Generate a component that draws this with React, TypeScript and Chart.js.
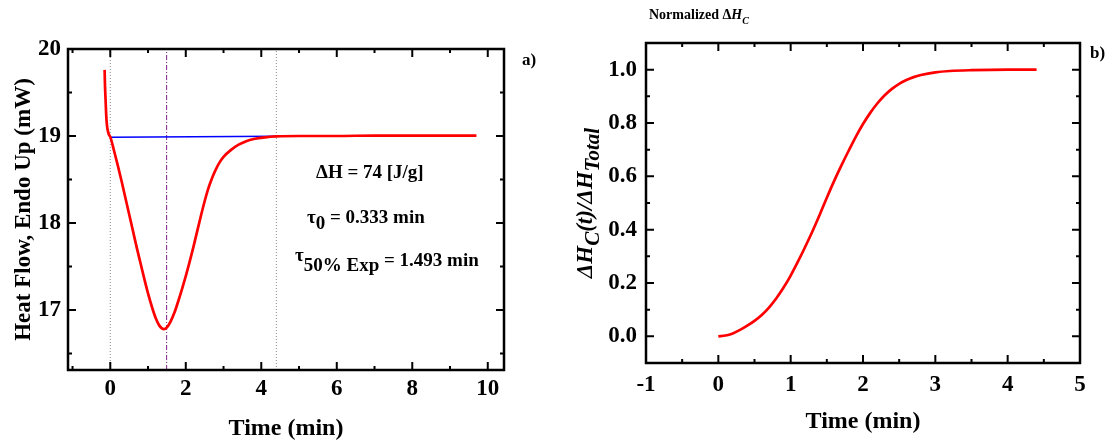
import React, { useEffect, useRef } from "react";
import { Chart, registerables } from "chart.js";

Chart.register(...registerables);

const SERIF = "'Liberation Serif', 'Times New Roman', Times, serif";

// ---------- Panel a) : heat flow ----------
const heatTime = [
  -0.15, -0.14, -0.125, -0.11, -0.09, -0.06, -0.03, 0, 0.1, 0.2, 0.3, 0.4, 0.5, 0.6, 0.7, 0.8, 0.9,
  1.0, 1.1, 1.2, 1.3, 1.42, 1.5, 1.6, 1.7, 1.8, 1.9, 2.0, 2.1, 2.2, 2.3, 2.4, 2.5, 2.6, 2.7, 2.8, 2.9,
  3.0, 3.2, 3.4, 3.6, 3.8, 4.1, 4.4, 5, 6, 7, 8, 9, 9.7,
];
const heatFlow = [
  19.76, 19.58, 19.42, 19.26, 19.13, 19.05, 19.01, 18.99, 18.83, 18.66, 18.48, 18.29, 18.1, 17.91, 17.72, 17.54, 17.36,
  17.19, 17.04, 16.91, 16.82, 16.78, 16.8, 16.87, 16.97, 17.1, 17.24, 17.39, 17.55, 17.72, 17.9, 18.08, 18.25, 18.4, 18.52, 18.62, 18.7,
  18.76, 18.84, 18.9, 18.94, 18.965, 18.985, 18.995, 19.0, 19.0, 19.005, 19.005, 19.005, 19.005,
];
const baseTime = [0, 4.4];
const baseFlow = [18.985, 18.998];
const markerTimes = [0, 1.493, 4.4];
const aXRange = [-1.12, 10.43];
const aYRange = [16.31, 20.0];
const aXMajor = [0, 2, 4, 6, 8, 10];
const aXMinor = [-1, 1, 3, 5, 7, 9];
const aYMajor = [17, 18, 19, 20];
const aYMinor = [16.5, 17.5, 18.5, 19.5];

// ---------- Panel b) : normalized enthalpy ----------
const normTime = [
  0, 0.1, 0.2, 0.3, 0.4, 0.5, 0.6, 0.7, 0.8, 0.9, 1.0, 1.1, 1.2, 1.3, 1.4, 1.5, 1.6, 1.7, 1.8, 1.9,
  2.0, 2.1, 2.2, 2.3, 2.4, 2.5, 2.6, 2.7, 2.8, 3.0, 3.2, 3.5, 4.0, 4.4,
];
const normValue = [
  0, 0.003, 0.011, 0.024, 0.04, 0.058, 0.08, 0.108, 0.142, 0.182, 0.228, 0.28, 0.335, 0.393, 0.455, 0.52, 0.582, 0.64, 0.695, 0.748,
  0.796, 0.838, 0.874, 0.904, 0.928, 0.947, 0.961, 0.972, 0.98, 0.99, 0.995, 0.998, 1.0, 1.0,
];
const bXRange = [-1, 5];
const bYRange = [-0.1, 1.1];
const bXMajor = [-1, 0, 1, 2, 3, 4, 5];
const bXMinor = [-0.5, 0.5, 1.5, 2.5, 3.5, 4.5];
const bYMajor = [0, 0.2, 0.4, 0.6, 0.8, 1.0];
const bYMinor = [0.1, 0.3, 0.5, 0.7, 0.9];

type Seg = { t: string; font: string; dy?: number };

function drawSegs(ctx: CanvasRenderingContext2D, x: number, y: number, segs: Seg[], align: "left" | "center") {
  let total = 0;
  const widths = segs.map((s) => {
    ctx.font = s.font;
    const w = ctx.measureText(s.t).width;
    total += w;
    return w;
  });
  let cx = align === "center" ? x - total / 2 : x;
  ctx.textAlign = "left";
  segs.forEach((s, i) => {
    ctx.font = s.font;
    ctx.fillText(s.t, cx, y + (s.dy || 0));
    cx += widths[i];
  });
}

const bold = (px: number) => `bold ${px}px ${SERIF}`;
const boldIt = (px: number) => `italic bold ${px}px ${SERIF}`;

function framePlugin(xMajor: number[], xMinor: number[], yMajor: number[], yMinor: number[], drawText: (ctx: CanvasRenderingContext2D, chart: any) => void) {
  return {
    id: "frameTicks",
    afterDraw(chart: any) {
      const { ctx, chartArea: a, scales } = chart;
      const xs = scales.x;
      const ys = scales.y;
      ctx.save();
      ctx.strokeStyle = "#000";
      ctx.lineWidth = 2;
      ctx.setLineDash([]);
      const xt = (vals: number[], len: number) => {
        vals.forEach((v) => {
          const p = xs.getPixelForValue(v);
          ctx.beginPath();
          ctx.moveTo(p, a.bottom);
          ctx.lineTo(p, a.bottom - len);
          ctx.moveTo(p, a.top);
          ctx.lineTo(p, a.top + len);
          ctx.stroke();
        });
      };
      const yt = (vals: number[], len: number) => {
        vals.forEach((v) => {
          const p = ys.getPixelForValue(v);
          ctx.beginPath();
          ctx.moveTo(a.left, p);
          ctx.lineTo(a.left + len, p);
          ctx.moveTo(a.right, p);
          ctx.lineTo(a.right - len, p);
          ctx.stroke();
        });
      };
      xt(xMajor, 8);
      xt(xMinor, 4);
      yt(yMajor, 8);
      yt(yMinor, 4);
      ctx.lineWidth = 2.5;
      ctx.strokeRect(a.left, a.top, a.right - a.left, a.bottom - a.top);
      ctx.fillStyle = "#000";
      ctx.textBaseline = "alphabetic";
      drawText(ctx, chart);
      ctx.restore();
    },
  };
}

function drawTextA(ctx: CanvasRenderingContext2D, chart: any) {
  const a = chart.chartArea;
  ctx.save();
  ctx.translate(30, (a.top + a.bottom) / 2);
  ctx.rotate(-Math.PI / 2);
  drawSegs(ctx, 0, 0, [{ t: "Heat Flow, Endo Up (mW)", font: bold(23) }], "center");
  ctx.restore();
  drawSegs(ctx, (a.left + a.right) / 2, 435, [{ t: "Time (min)", font: bold(24) }], "center");
  drawSegs(ctx, 316, 178, [{ t: "ΔH = 74 [J/g]", font: bold(19) }], "left");
  drawSegs(ctx, 307, 223, [
    { t: "τ", font: bold(19) },
    { t: "0", font: bold(19), dy: 5.5 },
    { t: " = 0.333 min", font: bold(19) },
  ], "left");
  drawSegs(ctx, 295, 266, [
    { t: "τ", font: bold(19), dy: -5 },
    { t: "50% Exp", font: bold(19), dy: 5 },
    { t: " = 1.493 min", font: bold(19) },
  ], "left");
  drawSegs(ctx, 522, 65, [{ t: "a)", font: bold(17) }], "left");
}

function drawTextB(ctx: CanvasRenderingContext2D, chart: any) {
  const a = chart.chartArea;
  drawSegs(ctx, 91, 19, [
    { t: "Normalized ", font: bold(14) },
    { t: "Δ", font: bold(14) },
    { t: "H", font: boldIt(14) },
    { t: "C", font: boldIt(10), dy: 5 },
  ], "left");
  ctx.save();
  ctx.translate(34, (a.top + a.bottom) / 2);
  ctx.rotate(-Math.PI / 2);
  drawSegs(ctx, 0, 0, [
    { t: "ΔH", font: boldIt(23) },
    { t: "C", font: boldIt(21), dy: 7 },
    { t: "(t)/ΔH", font: boldIt(23) },
    { t: "Total", font: boldIt(21), dy: 7 },
  ], "center");
  ctx.restore();
  drawSegs(ctx, (a.left + a.right) / 2, 428, [{ t: "Time (min)", font: bold(24) }], "center");
  drawSegs(ctx, 532, 58, [{ t: "b)", font: bold(17) }], "left");
}

const tickFont = { family: SERIF, size: 23, weight: "bold" as const };

function makeScales(
  xr: number[], yr: number[], xMajor: number[], yMajor: number[],
  xPad: number, yPad: number, xH: number, yW: number,
  xFmt: (v: number) => string, yFmt: (v: number) => string
) {
  return {
    x: {
      type: "linear" as const,
      min: xr[0],
      max: xr[1],
      grid: { display: false, drawTicks: false },
      border: { display: false },
      ticks: { font: tickFont, color: "#000", padding: xPad, maxRotation: 0, autoSkip: false, callback: (v: any) => xFmt(Number(v)) },
      afterBuildTicks: (s: any) => { s.ticks = xMajor.map((v) => ({ value: v })); },
      afterFit: (s: any) => { s.height = xH; },
    },
    y: {
      type: "linear" as const,
      min: yr[0],
      max: yr[1],
      grid: { display: false, drawTicks: false },
      border: { display: false },
      ticks: { font: tickFont, color: "#000", padding: yPad, autoSkip: false, callback: (v: any) => yFmt(Number(v)) },
      afterBuildTicks: (s: any) => { s.ticks = yMajor.map((v) => ({ value: v })); },
      afterFit: (s: any) => { s.width = yW; },
    },
  };
}

const commonOpts = {
  animation: false as const,
  responsive: false,
  devicePixelRatio: 1,
  plugins: { legend: { display: false }, tooltip: { enabled: false }, title: { display: false } },
  elements: { point: { radius: 0 }, line: { tension: 0 } },
};

export default function App() {
  const refA = useRef<HTMLCanvasElement>(null);
  const refB = useRef<HTMLCanvasElement>(null);

  useEffect(() => {
    const chartA = new Chart(refA.current!, {
      type: "line",
      data: {
        datasets: [
          {
            data: heatTime.map((t, i) => ({ x: t, y: heatFlow[i] })),
            borderColor: "#ff0000",
            borderWidth: 2.7,
            cubicInterpolationMode: "monotone",
          } as any,
          {
            data: baseTime.map((t, i) => ({ x: t, y: baseFlow[i] })),
            borderColor: "#0000ff",
            borderWidth: 1.5,
          },
          ...markerTimes.map((t, i) => ({
            data: [{ x: t, y: aYRange[0] }, { x: t, y: aYRange[1] }],
            borderColor: i === 1 ? "#80208a" : "#8a8a8a",
            borderWidth: 1,
            borderDash: i === 1 ? [5, 2, 1, 2] : [1, 2],
          })),
        ],
      },
      options: {
        ...commonOpts,
        layout: { padding: { left: 0, top: 49, right: 54, bottom: 0 } },
        scales: makeScales(aXRange, aYRange, aXMajor, aYMajor, 5.7, 7, 71, 68, (v) => String(v), (v) => String(v)),
      } as any,
      plugins: [framePlugin(aXMajor, aXMinor, aYMajor, aYMinor, drawTextA)],
    });

    const chartB = new Chart(refB.current!, {
      type: "line",
      data: {
        datasets: [
          {
            data: normTime.map((t, i) => ({ x: t, y: normValue[i] })),
            borderColor: "#ff0000",
            borderWidth: 2.7,
            cubicInterpolationMode: "monotone",
          } as any,
        ],
      },
      options: {
        ...commonOpts,
        layout: { padding: { left: 0, top: 43, right: 36, bottom: 0 } },
        scales: makeScales(bXRange, bYRange, bXMajor, bYMajor, 8, 9, 78, 88, (v) => String(v), (v) => v.toFixed(1)),
      } as any,
      plugins: [framePlugin(bXMajor, bXMinor, bYMajor, bYMinor, drawTextB)],
    });

    return () => {
      chartA.destroy();
      chartB.destroy();
    };
  }, []);

  return (
    <div style={{ position: "fixed", left: 0, top: 0, width: 1116, height: 441, background: "#fff", overflow: "hidden" }}>
      <canvas ref={refA} width={558} height={441} style={{ position: "absolute", left: 0, top: 0, width: 558, height: 441 }} />
      <canvas ref={refB} width={558} height={441} style={{ position: "absolute", left: 558, top: 0, width: 558, height: 441 }} />
    </div>
  );
}
